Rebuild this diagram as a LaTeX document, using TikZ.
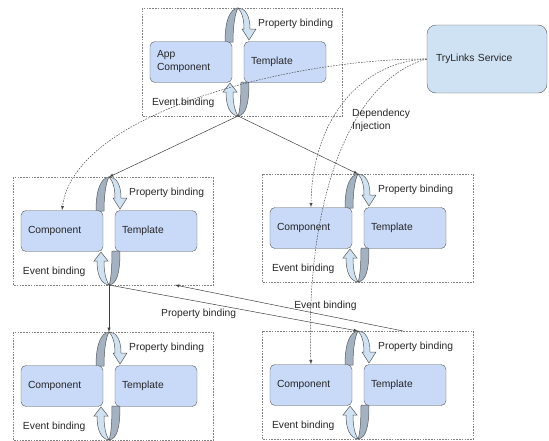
\documentclass[tikz,border=0pt]{standalone}
\usepackage{fontspec}
\setmainfont{Liberation Sans}
\usetikzlibrary{arrows,calc}
\pgfdeclarelayer{background}
\pgfsetlayers{background,main}
\definecolor{boxblue}{HTML}{C9DAF8}
\definecolor{svcblue}{HTML}{CFE2F3}
\definecolor{ringdark}{HTML}{A2B2C3}
\definecolor{ringlight}{HTML}{CFE2F3}
\definecolor{edgegray}{HTML}{595959}
\definecolor{textgray}{HTML}{262626}

% ring between a component and its template: name, component, template, right margin
\newcommand\bindring[4]{%
  \coordinate (#1) at ($(#2)!.5!(#3)$);
  \coordinate (#1t) at ($(#1)+(0,-54)$);
  \coordinate (#1b) at ($(#1)+(0,54)$);
  \draw[group] ($(#2.west |- #1t)+(-8,0)$) rectangle ($(#3.east |- #1b)+(#4,0)$);
  \begin{scope}[shift={(#1)}]
    \begin{pgfonlayer}{background}
      \draw[ringback] (0,-54) .. controls (-8,-53) and (-13,-42) .. (-13,-20)
        -- (-5,-20) .. controls (-5,-36) and (-3,-49) .. (0,-54) -- cycle;
      \draw[ringback] (0,54) .. controls (8,53) and (11,42) .. (11,20)
        -- (3,20) .. controls (3,36) and (2,49) .. (0,54) -- cycle;
    \end{pgfonlayer}
    \draw[ringfront] (0,-54) .. controls (7,-54) and (12,-47) .. (12,-33)
      -- (18,-33) -- (11,-22) -- (4,-33) -- (6,-33)
      .. controls (6,-43) and (4,-50) .. (0,-54) -- cycle;
    \draw[ringfront] (0,54) .. controls (-8,53) and (-12,44) .. (-12,30)
      -- (-15,30) -- (-8,21) -- (-1,30) -- (-5,30)
      .. controls (-5,42) and (-3,49) .. (0,54) -- cycle;
  \end{scope}
  \node[lbl, anchor=west] (#1p) at ($(#1)+(19,-38)$) {Property binding};
  \node[lbl, anchor=west] (#1e) at ($(#2.south west)+(1,20)$) {Event binding};
}

\begin{document}
\begin{tikzpicture}[x=1pt,y=-1pt,node distance=94pt,>=latex,
    font=\fontsize{10.3}{13}\selectfont,
    comp/.style={draw=edgegray,fill=boxblue,rounded corners=5pt,text width=68pt,
      align=left,inner xsep=7pt,minimum height=41pt,text=textgray},
    svc/.style={draw=edgegray,fill=svcblue,rounded corners=9pt,text width=102pt,
      align=left,inner xsep=9pt,minimum height=68pt,text=textgray},
    lbl/.style={text=textgray,inner sep=1pt},
    group/.style={draw=gray,dash pattern=on 1.6pt off 1.2pt,line width=0.5pt},
    ringback/.style={draw=edgegray,fill=ringdark,line width=0.5pt},
    ringfront/.style={draw=edgegray,fill=ringlight,line width=0.5pt},
    link/.style={->,draw=black!75,line width=0.5pt},
    inject/.style={->,draw=black!70,line width=0.5pt,dash pattern=on 1.6pt off 1.2pt}]
  \useasboundingbox (0,0) rectangle (549,440);
  \node[comp] (C0) at (191,62)  {App\\Component};
  \node[comp] (T0) [right of=C0] {Template};
  \node[comp] (C1) at (62,231)  {Component};
  \node[comp] (T1) [right of=C1] {Template};
  \node[comp] (C2) at (311,228) {Component};
  \node[comp] (T2) [right of=C2] {Template};
  \node[comp] (C3) at (62,386)  {Component};
  \node[comp] (T3) [right of=C3] {Template};
  \node[comp] (C4) at (311,385) {Component};
  \node[comp] (T4) [right of=C4] {Template};
  \node[svc]  (S)  at (487,59)  {TryLinks Service};
  \bindring{R0}{C0}{T0}{16}
  \bindring{R1}{C1}{T1}{16}
  \bindring{R2}{C2}{T2}{27}
  \bindring{R3}{C3}{T3}{16}
  \bindring{R4}{C4}{T4}{27}
  \coordinate (EBs) at (403,331);
  \coordinate (EBe) at (175,285);
  \draw[link] (R0b) -- (R1t);
  \draw[link] (R0b) -- (R2t);
  \draw[link] (R1b) -- (R3t);
  \draw[link] (R1b) -- node[lbl, pos=.36, below=6pt] (PB) {Property binding} (R4t);
  \draw[link] (EBs) -- node[lbl, pos=.34, above=3pt] (EB) {Event binding} (EBe);
  \draw[inject] (S.west) .. controls +(-127,-1) and +(13,-100) .. (C1.north);
  \draw[inject] (S.west) .. controls +(-67,3) and +(1,-87) .. (C2.north);
  \draw[inject] (S.west) .. controls +(-77,21) and +(-6,-164) .. (C4.north);
  \node[lbl, anchor=west, align=left] (DI) at (351,120) {Dependency\\Injection};
\end{tikzpicture}
\end{document}
